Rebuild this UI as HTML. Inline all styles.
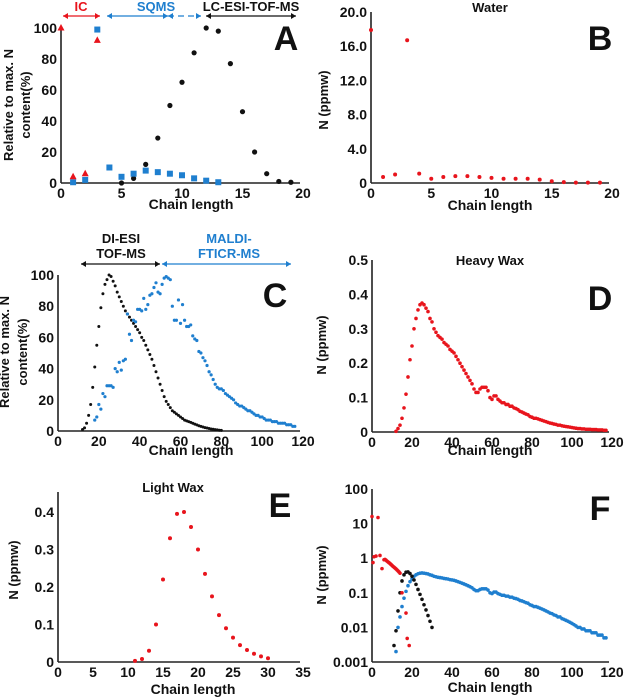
<!DOCTYPE html>
<html><head><meta charset="utf-8"><style>
html,body{margin:0;padding:0;background:#fff;}
svg{display:block;font-family:"Liberation Sans",Arial,sans-serif;font-weight:bold;}
</style></head><body>
<svg id="fig" width="627" height="699" viewBox="0 0 627 699"></svg>
<script>
// ---- data ----
const aLcX=[5,6,7,8,9,10,11,12,13,14,15,16,17,18,19];
const aLcY=[0,3,12,29,50,65,84,100,98,77,46,20,6,1,0.5];
const aSqX=[1,2,3,4,5,6,7,8,9,10,11,12,13];
const aSqY=[0.5,2,99,10,4,6,8,7,6,5,3,1.5,0.5];
const aIcX=[0,1,2,3];
const aIcY=[100,4,6,92];
const bX=[0,1,2,3,4,5,6,7,8,9,10,11,12,13,14,15,16,17,18,19];
const bY=[17.9,0.7,1.0,16.7,1.1,0.5,0.7,0.8,0.8,0.7,0.6,0.5,0.5,0.5,0.4,0.2,0.1,0.05,0.05,0.05];
const cBlkX=[12,13,14,15,16,17,18,19,20,21,22,23,24,25,26,27,28,29,30,31,32,33,34,35,36,37,38,39,40,41,42,43,44,45,46,47,48,49,50,51,52,53,54,55,56,57,58,59,60,61,62,63,64,65,66,67,68,69,70,71,72,73,74,75,76,77,78,79,80];
const cBlkY=[1,2,5,10,17,28,41,55,67,79,88,94,97,100,99,96,93,89,86,83,80,77,75,73,71,69,67,65,63,60,58,55,52,49,46,42,38,34,30,26,22,19,17,15,13,12,11,10,9,8,7,6.5,6,5.5,5,4.4,3.9,3.4,3,2.6,2.2,1.9,1.6,1.3,1.1,0.9,0.7,0.5,0.4];
const cBluX=[18,19,20,21,22,23,24,25,26,27,28,29,30,31,32,33,34,35,36,37,38,39,40,41,42,43,44,45,46,47,48,49,50,51,52,53,54,55,56,57,58,59,60,61,62,63,64,65,66,67,68,69,70,71,72,73,74,75,76,77,78,79,80,81,82,83,84,85,86,87,88,89,90,91,92,93,94,95,96,97,98,99,100,101,102,103,104,105,106,107,108,109,110,111,112,113,114,115,116];
const cBluY=[7,9,17,14,24,22,29,29,29,28,40,38,44,39,45,46,75,62,58,71,70,78,78,77,85,78,81,87,88,92,95,89,88,94,98,99,98,97,80,71,71,84,69,81,71,67,67,68,61,59,58,51,50,47,45,42,38,36,33,30,28,27,27,26,24,23,22,21,20,18,17,16,16,15,14,13,13,12,11,10,10,9,9,8,7,7,7,6,6,6,5,5,5,5,4,4,4,3,3];
const dX=[12,13,14,15,16,17,18,19,20,21,22,23,24,25,26,27,28,29,30,31,32,33,34,35,36,37,38,39,40,41,42,43,44,45,46,47,48,49,50,51,52,53,54,55,56,57,58,59,60,61,62,63,64,65,66,67,68,69,70,71,72,73,74,75,76,77,78,79,80,81,82,83,84,85,86,87,88,89,90,91,92,93,94,95,96,97,98,99,100,101,102,103,104,105,106,107,108,109,110,111,112,113,114,115,116,117];
const dY=[0.002,0.01,0.02,0.04,0.07,0.11,0.16,0.21,0.25,0.30,0.33,0.355,0.37,0.375,0.37,0.36,0.35,0.33,0.32,0.30,0.29,0.28,0.275,0.27,0.26,0.255,0.25,0.24,0.235,0.23,0.22,0.21,0.2,0.19,0.18,0.17,0.16,0.15,0.14,0.125,0.115,0.115,0.125,0.13,0.13,0.13,0.12,0.10,0.095,0.105,0.105,0.095,0.09,0.085,0.085,0.08,0.08,0.075,0.075,0.07,0.068,0.065,0.06,0.058,0.055,0.052,0.05,0.045,0.043,0.04,0.04,0.038,0.036,0.034,0.032,0.03,0.028,0.026,0.025,0.023,0.022,0.02,0.02,0.018,0.017,0.016,0.015,0.014,0.013,0.012,0.011,0.01,0.01,0.009,0.009,0.008,0.008,0.008,0.007,0.007,0.007,0.006,0.006,0.006,0.005,0.005];
const eX=[11,12,13,14,15,16,17,18,19,20,21,22,23,24,25,26,27,28,29,30];
const eY=[0.003,0.008,0.03,0.1,0.22,0.33,0.395,0.4,0.36,0.3,0.235,0.175,0.125,0.09,0.065,0.045,0.032,0.022,0.015,0.01];
const fRedX=[0.5,0,1,2,3,4,5,6,6.5,7,7.5,8,8.5,9,9.5,10,10.5,11,11.5,12,12.5,13,13.5,14,15,17,17.6,18.6];
const fRedY=[0.75,16,1.1,1.15,15,1.2,0.5,0.9,0.92,0.88,0.82,0.78,0.74,0.7,0.66,0.62,0.58,0.55,0.52,0.49,0.46,0.43,0.4,0.37,0.1,0.026,0.0048,0.003];
const ticksA=[0,20,40,60,80,100], ticksX20=[0,5,10,15,20];
const ticksB=[0,4,8,12,16,20], ticksBLab=["0","4.0","8.0","12.0","16.0","20.0"];
const ticksX120=[0,20,40,60,80,100,120];
const ticksD=[0,0.1,0.2,0.3,0.4,0.5], ticksE=[0,0.1,0.2,0.3,0.4], ticksX35=[0,5,10,15,20,25,30,35];
const ticksF=[0.001,0.01,0.1,1,10,100], ticksFLab=["0.001","0.01","0.1","1","10","100"];

const NS="http://www.w3.org/2000/svg";
const svg=document.getElementById('fig');
function mk(tag,attrs,parent,txt){const e=document.createElementNS(NS,tag);for(const k in attrs)e.setAttribute(k,attrs[k]);if(txt!==undefined)e.textContent=txt;(parent||svg).appendChild(e);return e;}
function lin(d0,d1,r0,r1){return v=>r0+(v-d0)/(d1-d0)*(r1-r0);}
function logs(d0,d1,r0,r1){return v=>r0+(Math.log10(v)-Math.log10(d0))/(Math.log10(d1)-Math.log10(d0))*(r1-r0);}

function axes(name,g,sx,sy,x0,x1,yb,yt,xt,yt2,ylab){
  const ax=mk('g',{},g);
  
  
  mk('line',{x1:sx(x0),y1:yb,x2:sx(x1)-3,y2:yb,stroke:'#222','stroke-width':1.6},ax);
  mk('line',{x1:sx(x0),y1:yb,x2:sx(x0),y2:yt,stroke:'#222','stroke-width':1.6},ax);
  xt.forEach(v=>{const t=mk('text',{x:sx(v),y:yb+15,'text-anchor':'middle','font-size':14,fill:'#111'},ax,String(v));
    });
  yt2.forEach((v,i)=>{const t=mk('text',{x:sx(x0)-4,y:sy(v)+5,'text-anchor':'end','font-size':14,fill:'#111'},ax,ylab?ylab[i]:String(v));
    });
}
function dots(g,name,xs,ys,sx,sy,r,col,shape){
  const s=mk('g',{},g);
  
  
  xs.forEach((x,i)=>{const X=sx(x),Y=sy(ys[i]);let e;
    if(shape==='sq')e=mk('rect',{x:X-3,y:Y-3,width:6,height:6,fill:col},s);
    else if(shape==='tri')e=mk('polygon',{points:`${X},${Y-4} ${X-3.5},${Y+2.5} ${X+3.5},${Y+2.5}`,fill:col},s);
    else e=mk('circle',{cx:X,cy:Y,r:r,fill:col},s);
    
    });
}
function txt(name,x,y,s,size,col,anchor,rot){const a={x:x,y:y,'font-size':size,fill:col||'#111','text-anchor':anchor||'middle'};if(rot)a.transform=`rotate(-90 ${x} ${y})`;const t=mk('text',a,svg,s);
  return t;}
function arrow(name,x1,x2,y,col,dash){const g=mk('g',{});
  mk('line',{x1:x1,y1:y,x2:x2,y2:y,stroke:col,'stroke-width':1.3,'stroke-dasharray':dash||'none'},g);
  mk('polygon',{points:`${x1},${y} ${x1+5},${y-3} ${x1+5},${y+3}`,fill:col},g);
  mk('polygon',{points:`${x2},${y} ${x2-5},${y-3} ${x2-5},${y+3}`,fill:col},g);}
const RED='#e8141c',BLUE='#1f7fcf',BLK='#111';

// Panel A
let g=mk('g',{});
let sx=lin(0,20,61,303),sy=lin(0,100,183,28);
axes('panel-a',g,sx,sy,0,20,183,28,ticksX20,ticksA);
dots(g,'lc-esi-series',aLcX,aLcY,sx,sy,2.6,BLK);
dots(g,'sqms-series',aSqX,aSqY,sx,sy,0,BLUE,'sq');
dots(g,'ic-series',aIcX,aIcY,sx,sy,0,RED,'tri');
txt('panel-a-label',286,50,'A',34,BLK);
txt('ic-label',81,11,'IC',13,RED);arrow('ic-arrow',63,100,16,RED);
txt('sqms-label',156,11,'SQMS',13,BLUE);arrow('sqms-arrow',107,168,16,BLUE);arrow('sqms-dashed-arrow',168,201,16,BLUE,'6,4');
txt('lc-label',251,11,'LC-ESI-TOF-MS',13,BLK);arrow('lc-arrow',206,296,16,BLK);
txt('y-axis-title-a',13,105,'Relative to max. N',13,BLK,'middle',true);
txt('y-axis-title-a2',30,105,'content(%)',13,BLK,'middle',true);
txt('x-axis-title-a',191,209,'Chain length',14,BLK);

// Panel B
g=mk('g',{});
sx=lin(0,20,371,612);sy=lin(0,20,183,12);
axes('panel-b',g,sx,sy,0,20,183,12,ticksX20,ticksB,ticksBLab);
dots(g,'water-series',bX,bY,sx,sy,2,RED);
txt('panel-b-title',490,12,'Water',13,BLK);
txt('panel-b-label',600,50,'B',34,BLK);
txt('y-axis-title-b',328,100,'N (ppmw)',13,BLK,'middle',true);
txt('x-axis-title-b',490,210,'Chain length',14,BLK);

// Panel C
g=mk('g',{});
sx=lin(0,120,58,303);sy=lin(0,100,431,275);
axes('panel-c',g,sx,sy,0,120,431,275,ticksX120,ticksA);
dots(g,'di-esi-series',cBlkX,cBlkY,sx,sy,1.5,BLK);
dots(g,'maldi-series',cBluX,cBluY,sx,sy,1.6,BLUE);
txt('panel-c-label',275,307,'C',34,BLK);
txt('di-esi-label',121,243,'DI-ESI',13,BLK);txt('di-esi-label2',121,258,'TOF-MS',13,BLK);arrow('di-esi-arrow',81,160,264,BLK);
txt('maldi-label',229,243,'MALDI-',13,BLUE);txt('maldi-label2',229,258,'FTICR-MS',13,BLUE);arrow('maldi-arrow',162,291,264,BLUE);
txt('y-axis-title-c',9,352,'Relative to max. N',13,BLK,'middle',true);
txt('y-axis-title-c2',27,352,'content(%)',13,BLK,'middle',true);
txt('x-axis-title-c',191,455,'Chain length',14,BLK);

// Panel D
g=mk('g',{});
sx=lin(0,120,372,612);sy=lin(0,0.5,432,260);
axes('panel-d',g,sx,sy,0,120,432,260,ticksX120,ticksD);
dots(g,'heavy-wax-series',dX,dY,sx,sy,1.8,RED);
txt('panel-d-title',490,265,'Heavy Wax',13,BLK);
txt('panel-d-label',600,310,'D',34,BLK);
txt('y-axis-title-d',326,345,'N (ppmw)',13,BLK,'middle',true);
txt('x-axis-title-d',490,455,'Chain length',14,BLK);

// Panel E
g=mk('g',{});
sx=lin(0,35,58,303);sy=lin(0,0.4,662,512);
axes('panel-e',g,sx,sy,0,35,662,492,ticksX35,ticksE);
dots(g,'light-wax-series',eX,eY,sx,sy,2,RED);
txt('panel-e-title',173,492,'Light Wax',13,BLK);
txt('panel-e-label',280,517,'E',34,BLK);
txt('y-axis-title-e',18,570,'N (ppmw)',13,BLK,'middle',true);
txt('x-axis-title-e',193,694,'Chain length',14,BLK);

// Panel F
g=mk('g',{});
sx=lin(0,120,372,612);sy=logs(0.001,100,662,489);
axes('panel-f',g,sx,sy,0,120,662,489,ticksX120,ticksF,ticksFLab);
dots(g,'f-heavy-wax-series',dX,dY,sx,sy,1.8,BLUE);
dots(g,'f-light-wax-series',eX,eY,sx,sy,1.8,BLK);
dots(g,'f-water-series',fRedX,fRedY,sx,sy,1.8,RED);
txt('panel-f-label',600,520,'F',34,BLK);
txt('y-axis-title-f',326,575,'N (ppmw)',13,BLK,'middle',true);
txt('x-axis-title-f',490,692,'Chain length',14,BLK);
</script>
</body></html>
